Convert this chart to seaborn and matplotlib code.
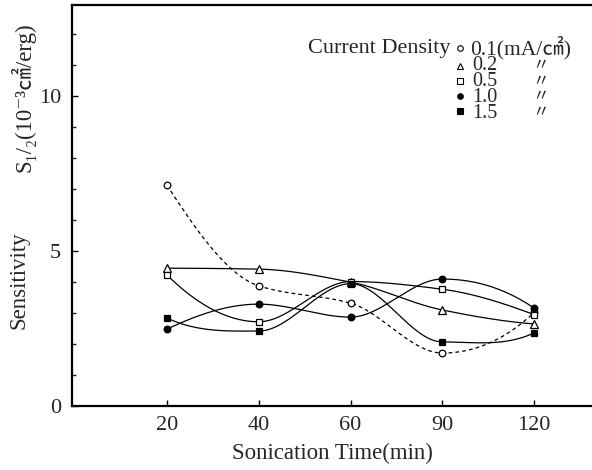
import numpy as np
import pandas as pd
import matplotlib
matplotlib.use("Agg")
import matplotlib.pyplot as plt
import seaborn as sns
from matplotlib.ticker import MultipleLocator, FixedLocator

# ---- data ----
times = ["20", "40", "60", "90", "120"]
s01 = [7.13, 3.88, 3.32, 1.71, 3.02]   # 0.1 mA/cm2 (open circle, dashed)
s02 = [4.45, 4.42, 4.00, 3.10, 2.65]   # 0.2 (open triangle)
s05 = [4.23, 2.72, 4.02, 3.77, 2.95]   # 0.5 (open square)
s10 = [2.48, 3.29, 2.87, 4.10, 3.16]   # 1.0 (filled circle)
s15 = [2.84, 2.42, 3.95, 2.07, 2.36]   # 1.5 (filled square)
series_names = ["0.1", "0.2", "0.5", "1.0", "1.5"]
first_label = "0.1(mA/㎠)"
other_labels = ["0.2", "0.5", "1.0", "1.5"]
ditto = "〃"

W, H = 592, 470
sns.set_style("ticks")
plt.rcParams['font.family'] = ['Liberation Serif', 'DejaVu Serif', 'Noto Sans CJK JP']
plt.rcParams['font.size'] = 16

fig = plt.figure(figsize=(W / 100, H / 100), dpi=100)
L, R, T, B = 72, 592, 5, 406
ax = fig.add_axes([L / W, 1 - B / H, (R - L) / W, (B - T) / H])


def smooth_curve(x, y, n=300):
    """Monotone piecewise cubic Hermite (Fritsch-Carlson) through the points."""
    x = np.asarray(x, float)
    y = np.asarray(y, float)
    h = np.diff(x)
    d = np.diff(y) / h
    k = len(x)
    m = np.zeros(k)
    for i in range(1, k - 1):
        if d[i - 1] * d[i] > 0:
            w1 = 2 * h[i] + h[i - 1]
            w2 = h[i] + 2 * h[i - 1]
            m[i] = (w1 + w2) / (w1 / d[i - 1] + w2 / d[i])
        else:
            m[i] = 0.0
    m[0] = ((2 * h[0] + h[1]) * d[0] - h[0] * d[1]) / (h[0] + h[1])
    if np.sign(m[0]) != np.sign(d[0]):
        m[0] = 0
    m[-1] = ((2 * h[-1] + h[-2]) * d[-1] - h[-1] * d[-2]) / (h[-1] + h[-2])
    if np.sign(m[-1]) != np.sign(d[-1]):
        m[-1] = 0
    xs = np.linspace(x[0], x[-1], n)
    idx = np.clip(np.searchsorted(x, xs) - 1, 0, k - 2)
    hh = h[idx]
    t = (xs - x[idx]) / hh
    h00 = 2 * t ** 3 - 3 * t ** 2 + 1
    h10 = t ** 3 - 2 * t ** 2 + t
    h01 = -2 * t ** 3 + 3 * t ** 2
    h11 = t ** 3 - t ** 2
    ys = h00 * y[idx] + h10 * hh * m[idx] + h01 * y[idx + 1] + h11 * hh * m[idx + 1]
    return xs, ys


pos = np.arange(len(times))
all_series = [s01, s02, s05, s10, s15]
markers = ['o', '^', 's', 'o', 's']
filled = [False, False, False, True, True]
styles = [(0, (3, 2.5)), '-', '-', '-', '-']

for vals, name, mk, fl, ls in zip(all_series, series_names, markers, filled, styles):
    xs, ys = smooth_curve(pos, vals)
    df = pd.DataFrame({"x": xs, "y": ys})
    sns.lineplot(data=df, x="x", y="y", ax=ax, color="black", lw=0.9,
                 linestyle=ls, estimator=None, sort=False)
    ax.plot(pos, vals, linestyle='none', marker=mk, ms=4.8 if mk != '^' else 5.2,
            mfc='black' if fl else 'white', mec='black', mew=0.9, zorder=5)

ax.set_xlim(-1.035, 4.63)
ax.set_ylim(0, 12.95)
ax.xaxis.set_major_locator(FixedLocator(pos))
ax.set_xticklabels(times)
ax.yaxis.set_major_locator(FixedLocator([0, 5, 10]))
ax.yaxis.set_minor_locator(MultipleLocator(1))
ax.tick_params(axis='both', which='major', direction='in', length=4, width=1.0,
               labelsize=16, color='black')
ax.tick_params(axis='y', which='major', pad=8)
ax.tick_params(axis='x', which='major', pad=7)
ax.tick_params(axis='y', which='minor', direction='in', length=3, width=1.0)
for s in ['left', 'bottom', 'top']:
    ax.spines[s].set_linewidth(1.6)
    ax.spines[s].set_color('black')
ax.spines['right'].set_visible(False)
ax.set_xlabel("Sonication Time(min)", fontsize=16.5, labelpad=6)
ax.set_ylabel("")

# y-axis label (two parts, rotated)
fig.text(19 / W, 1 - 280 / H, "Sensitivity", rotation=90, ha='center', va='center', fontsize=16.5)
fig.text(23 / W, 1 - 97 / H, "S₁/₂(10⁻³㎠/erg)", rotation=90, ha='center', va='center',
         fontsize=16.5)

# legend block
fig.text(450 / W, 1 - 48 / H, "Current Density", ha='right', va='center', fontsize=16)
rows_y = [48, 66, 81, 96, 111]
for mk, fl, yy in zip(markers, filled, rows_y):
    ax.plot([460 / W], [1 - yy / H], transform=fig.transFigure, linestyle='none',
            marker=mk, ms=4 if mk != '^' else 4.4, mfc='black' if fl else 'white',
            mec='black', mew=0.8, clip_on=False)
fig.text(470 / W, 1 - 48 / H, first_label, ha='left', va='center', fontsize=15.5)
block_c = (rows_y[1] + rows_y[-1]) / 2 + 1
fig.text(472 / W, 1 - block_c / H, "\n".join(other_labels), ha='left', va='center',
         fontsize=14.5, linespacing=0.78)
fig.text(541 / W, 1 - block_c / H, "\n".join([ditto] * len(other_labels)), ha='center',
         va='center', fontsize=12, linespacing=0.96)

fig.savefig("out.png", dpi=100)
